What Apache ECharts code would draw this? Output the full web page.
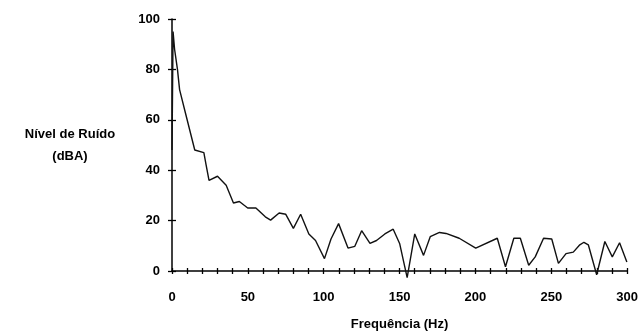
<!DOCTYPE html>
<html lang="pt">
<head>
    <meta charset="UTF-8">
    <title>Nível de Ruído</title>
    <script src="https://cdn.jsdelivr.net/npm/echarts@6/dist/echarts.min.js"></script>
    <style>
        html, body { margin: 0; padding: 0; background: #fff; }
        #chart1 { width: 641px; height: 336px; }
    </style>
</head>
<body>
<div id="chart1"></div>
<script>
    // frequência (Hz) e nível (dBA)
    var freq = [0, 0.7, 1.7, 3.6, 5, 8.9, 15, 21, 22.5, 24.4, 30, 35.7, 40.5, 44.4, 49.9, 55.3, 61.5, 65, 70.6, 75,
        80, 84.8, 90.2, 94.6, 100.5, 104.8, 109.8, 116, 120.5, 125, 130.5, 134.8, 140.3, 145.8, 150.1, 153.4, 155,
        160, 165.8, 170.2, 176.3, 180.6, 189.3, 200.2, 214.4, 219.8, 225.3, 229.6, 235.1, 239.4, 244.9, 250.3,
        254.7, 259.7, 264.5, 268.8, 271.5, 274.4, 279.9, 285.3, 290.2, 295, 299.8];
    var nivel = [48, 95, 88, 80, 72, 62.6, 48, 47, 42, 36, 37.6, 34, 27, 27.6, 25, 25, 21.5, 20.2, 23, 22.5,
        16.9, 22.5, 14.7, 12.1, 4.9, 12.7, 18.8, 9.1, 9.8, 16, 11, 12.1, 14.7, 16.6, 10.8, 1.7, -2.6,
        14.7, 6.2, 13.6, 15.3, 14.9, 13, 9.1, 13, 1.7, 13, 13, 2.3, 5.6, 13, 12.7,
        3, 6.9, 7.5, 10.4, 11.4, 10.4, -1.5, 11.7, 5.6, 11.2, 3.6];

    var fonte = 'Liberation Sans, Arial, sans-serif';
    var dados = [];
    for (var i = 0; i < freq.length; i++) {
        dados.push([freq[i], nivel[i]]);
    }

    var ctx1 = echarts.init(document.getElementById('chart1'));
    ctx1.setOption({
        animation: false,
        grid: { left: 172, right: 10, top: 19, bottom: 60 },
        xAxis: [{
            type: 'value', min: 0, max: 300, interval: 10,
            name: 'Frequência (Hz)', nameLocation: 'middle', nameGap: 47,
            nameTextStyle: { color: '#000', fontFamily: fonte, fontWeight: 'bold', fontSize: 13 },
            axisLine: { onZero: false, lineStyle: { color: '#000', width: 1.5 } },
            axisTick: { length: 3, lineStyle: { color: '#000', width: 1.3 } },
            axisLabel: {
                margin: 20, color: '#000', fontFamily: fonte, fontWeight: 'bold', fontSize: 13,
                formatter: function (v) { return v % 50 === 0 ? v : ''; }
            },
            splitLine: { show: false }
        }, {
            type: 'value', min: 0, max: 300, interval: 10, position: 'bottom',
            axisLine: { show: false },
            axisTick: { inside: true, length: 3, lineStyle: { color: '#000', width: 1.3 } },
            axisLabel: { show: false },
            splitLine: { show: false }
        }],
        yAxis: [{
            type: 'value', min: 0, max: 100, interval: 20,
            name: 'Nível de Ruído\n(dBA)', nameLocation: 'middle', nameRotate: 0, nameGap: 102,
            nameTextStyle: {
                color: '#000', fontFamily: fonte, fontWeight: 'bold', fontSize: 13,
                align: 'center', lineHeight: 22, padding: [6, 0, 0, 0]
            },
            axisLine: { onZero: false, lineStyle: { color: '#000', width: 1.5 } },
            axisTick: { length: 4, lineStyle: { color: '#000', width: 1.3 } },
            axisLabel: { margin: 12, color: '#000', fontFamily: fonte, fontWeight: 'bold', fontSize: 13 },
            splitLine: { show: false }
        }, {
            type: 'value', min: 0, max: 100, interval: 20, position: 'left',
            axisLine: { show: false },
            axisTick: { inside: true, length: 4, lineStyle: { color: '#000', width: 1.3 } },
            axisLabel: { show: false },
            splitLine: { show: false }
        }],
        series: [{
            type: 'line',
            data: dados,
            clip: false,
            showSymbol: false,
            lineStyle: { color: '#111', width: 1.4 }
        }]
    });
</script>
</body>
</html>
